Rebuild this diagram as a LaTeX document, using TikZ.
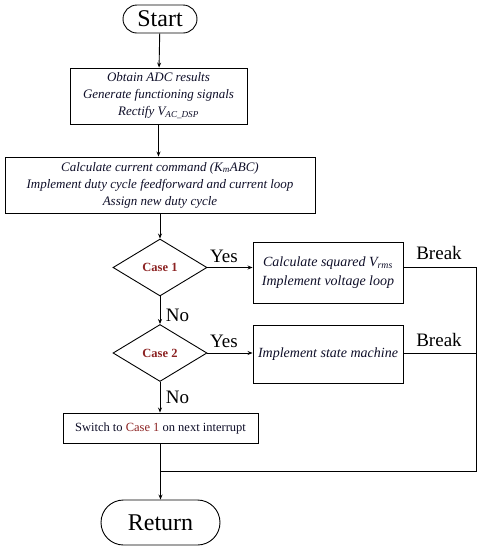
\documentclass[tikz,border=0pt]{standalone}
\usepackage{fontspec}
\setmainfont{Liberation Serif}
\usetikzlibrary{shapes.geometric,shapes.misc,arrows.meta}
\definecolor{txtnavy}{RGB}{14,14,40}
\definecolor{casered}{RGB}{140,35,35}

\begin{document}
\begin{tikzpicture}[x=1pt, y=-1pt,
	every path/.style={line width=0.9pt},
	arr/.style={-{Stealth[length=5pt,width=4pt]}},
	term/.style={rounded rectangle, draw, inner sep=0,
				font=\fontsize{24}{28}\selectfont},
	proc/.style={rectangle, draw, inner sep=0, align=center,
				text=txtnavy, font=\fontsize{13}{17}\selectfont\itshape},
	decide/.style={diamond, draw, inner sep=0, aspect=1.65,
				minimum width=94pt, minimum height=57pt,
				text=casered, font=\fontsize{12.5}{14}\selectfont\bfseries},
	lbl/.style={font=\fontsize{19}{22}\selectfont}]
	\useasboundingbox (0,0) rectangle (481,550);

	\node[term, minimum width=74pt, minimum height=28pt] (start) at (160,19) {Start};
	\node[proc, minimum width=177pt, minimum height=56pt] (adc) at (158.5,96)
		{Obtain ADC results\\Generate functioning signals\\Rectify V\textsubscript{AC\_DSP}};
	\node[proc, minimum width=310pt, minimum height=56pt] (cur) at (160,185)
		{Calculate current command (K\textsubscript{m}ABC)\\Implement duty cycle feedforward and current loop\\Assign new duty cycle};
	\node[decide] (case1) at (160,267.5) {Case 1};
	\node[proc, minimum width=150pt, minimum height=61pt,
		font=\fontsize{14}{19}\selectfont\itshape] (volt) at (328,272.5)
		{Calculate squared V\textsubscript{rms}\\Implement voltage loop};
	\node[decide] (case2) at (160,353) {Case 2};
	\node[proc, minimum width=150pt, minimum height=58pt,
		font=\fontsize{14}{19}\selectfont\itshape] (state) at (328,354)
		{Implement state machine};
	\node[proc, minimum width=195pt, minimum height=30pt,
		font=\fontsize{12.5}{15}\selectfont] (switch) at (160.5,428)
		{Switch to \textcolor{casered}{Case 1} on next interrupt};
	\node[term, minimum width=119pt, minimum height=45pt] (ret) at (160.5,522.5) {Return};

	\coordinate (rtop) at (476,267.5);
	\coordinate (rbot) at (476,471);
	\coordinate (join) at (160.5,471);

	\draw[arr] (start) -- (adc);
	\draw[arr] (adc.south) -- (adc.south |- cur.north);
	\draw[arr] (cur.south -| case1.north) -- (case1.north);
	\draw[arr] (case1.east) -- (volt.west |- case1.east);
	\draw[arr] (case1.south) -- (case2.north);
	\draw[arr] (case2.east) -- (state.west |- case2.east);
	\draw[arr] (case2.south) -- (case2.south |- switch.north);
	\draw[arr] (switch.south) -- (ret.north);
	\draw (volt.east |- rtop) -- (rtop) -- (rbot) -- (join);
	\draw (state.east |- case2.east) -- (rbot |- case2.east);

	\node[lbl] (yes1) at (224,256) {Yes};
	\node[lbl] (yes2) at (224,341) {Yes};
	\node[lbl] (brk1) at (439,253) {Break};
	\node[lbl] (brk2) at (439,340) {Break};
	\node[lbl, anchor=west] (no1) at (162,315) {No};
	\node[lbl, anchor=west] (no2) at (162,397) {No};

\end{tikzpicture}
\end{document}
